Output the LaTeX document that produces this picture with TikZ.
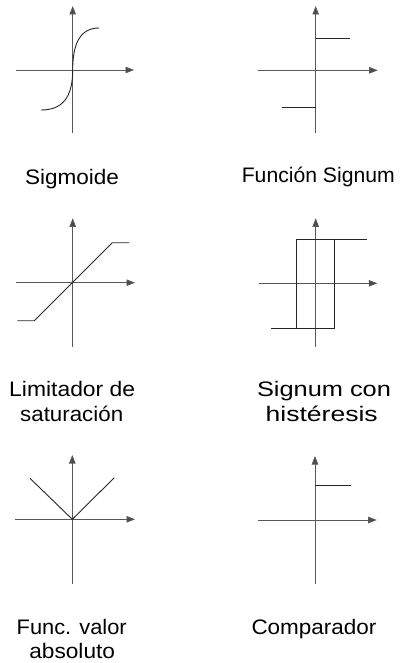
\documentclass[tikz,border=0pt]{standalone}
\usepackage{fontspec}
\setmainfont{Liberation Sans}
\usetikzlibrary{arrows.meta}
\newcommand\lblw[2]{\resizebox{#1pt}{\height}{#2}}
\begin{document}
\begin{tikzpicture}[x=1pt,y=-1pt,
  axis/.style={draw=black!65, line width=0.8pt, -{Triangle[length=8.5pt,width=6.5pt,fill=black!70]}},
  fn/.style={draw=black!85, line width=0.9pt, line join=miter},
  lbl/.style={font=\fontsize{21}{25}\selectfont, anchor=base, inner sep=0pt, text=black}]
\useasboundingbox (0,0) rectangle (399,663);
% ---------- Panel 1: Sigmoide
\coordinate (a1l) at (16,70);   \coordinate (a1r) at (134,70);
\coordinate (a1b) at (72.7,133); \coordinate (a1t) at (72.7,6);
\coordinate (o1) at (72.7,70);
\coordinate (s1a) at (41,110);  \coordinate (s1b) at (99,28);
\draw[axis] (a1l) -- (a1r);
\draw[axis] (a1b) -- (a1t);
\draw[fn] (s1a) .. controls (62,110) and (72.7,98) .. (o1) .. controls (72.7,44) and (80,28) .. (s1b);
\node[lbl] (l1) at (72,184) {\lblw{94}{Sigmoide}};
% ---------- Panel 2: Funcion Signum
\coordinate (a2l) at (258.3,70.3); \coordinate (a2r) at (377.7,70.3);
\coordinate (a2b) at (315.7,133);  \coordinate (a2t) at (315.7,6);
\coordinate (p2a) at (315.7,38.3); \coordinate (p2b) at (350,38.3);
\coordinate (n2a) at (281.7,107);  \coordinate (n2b) at (315.7,107);
\draw[axis] (a2l) -- (a2r);
\draw[axis] (a2b) -- (a2t);
\draw[fn] (p2a) -- (p2b);
\draw[fn] (n2a) -- (n2b);
\node[lbl] (l2) at (318.3,182.7) {\lblw{153}{Función Signum}};
% ---------- Panel 3: Limitador de saturacion
\coordinate (a3l) at (16,282.7);   \coordinate (a3r) at (135,282.7);
\coordinate (a3b) at (72.7,346.7); \coordinate (a3t) at (72.7,218.3);
\coordinate (c3a) at (17.3,320.7); \coordinate (c3b) at (34.3,320.7);
\coordinate (c3c) at (112.3,242.7); \coordinate (c3d) at (129,242.7);
\draw[axis] (a3l) -- (a3r);
\draw[axis] (a3b) -- (a3t);
\draw[fn] (c3a) -- (c3b) -- (c3c) -- (c3d);
\node[lbl] (l3a) at (72.2,396.7) {\lblw{126}{Limitador de}};
\node[lbl] (l3b) at (71.7,421.7) {\lblw{103}{saturación}};
% ---------- Panel 4: Signum con histeresis
\coordinate (a4l) at (259,283.3);   \coordinate (a4r) at (377.3,283.3);
\coordinate (a4b) at (315.7,346.7); \coordinate (a4t) at (315.7,218.3);
\coordinate (h4a) at (271,328.3);   \coordinate (h4b) at (296.7,328.3);
\coordinate (h4c) at (334,328.3);   \coordinate (h4d) at (296.7,239);
\coordinate (h4e) at (334,239);     \coordinate (h4f) at (367.3,239);
\draw[axis] (a4l) -- (a4r);
\draw[axis] (a4b) -- (a4t);
\draw[fn] (h4a) -- (h4c) -- (h4e) -- (h4f);
\draw[fn] (h4b) -- (h4d) -- (h4e);
\node[lbl] (l4a) at (324,396.7) {\lblw{134}{Signum con}};
\node[lbl] (l4b) at (321.7,421.7) {\lblw{112}{histéresis}};
% ---------- Panel 5: Func. valor absoluto
\coordinate (a5l) at (15,519.3);  \coordinate (a5r) at (135,519.3);
\coordinate (a5b) at (72.3,584);  \coordinate (a5t) at (72.3,455);
\coordinate (o5) at (72.3,519.3);
\coordinate (v5a) at (30,478.3);  \coordinate (v5b) at (114.3,477.7);
\draw[axis] (a5l) -- (a5r);
\draw[axis] (a5b) -- (a5t);
\draw[fn] (v5a) -- (o5) -- (v5b);
\node[lbl] (l5a) at (71.7,634.3) {\lblw{110}{Func. valor}};
\node[lbl] (l5b) at (72.2,658.3) {\lblw{85.7}{absoluto}};
% ---------- Panel 6: Comparador
\coordinate (a6l) at (258.3,520); \coordinate (a6r) at (376.7,520);
\coordinate (a6b) at (315,584);   \coordinate (a6t) at (315,456);
\coordinate (p6a) at (315,485);   \coordinate (p6b) at (350.7,485);
\draw[axis] (a6l) -- (a6r);
\draw[axis] (a6b) -- (a6t);
\draw[fn] (p6a) -- (p6b);
\node[lbl] (l6) at (314,634.3) {\lblw{125}{Comparador}};
\end{tikzpicture}
\end{document}
